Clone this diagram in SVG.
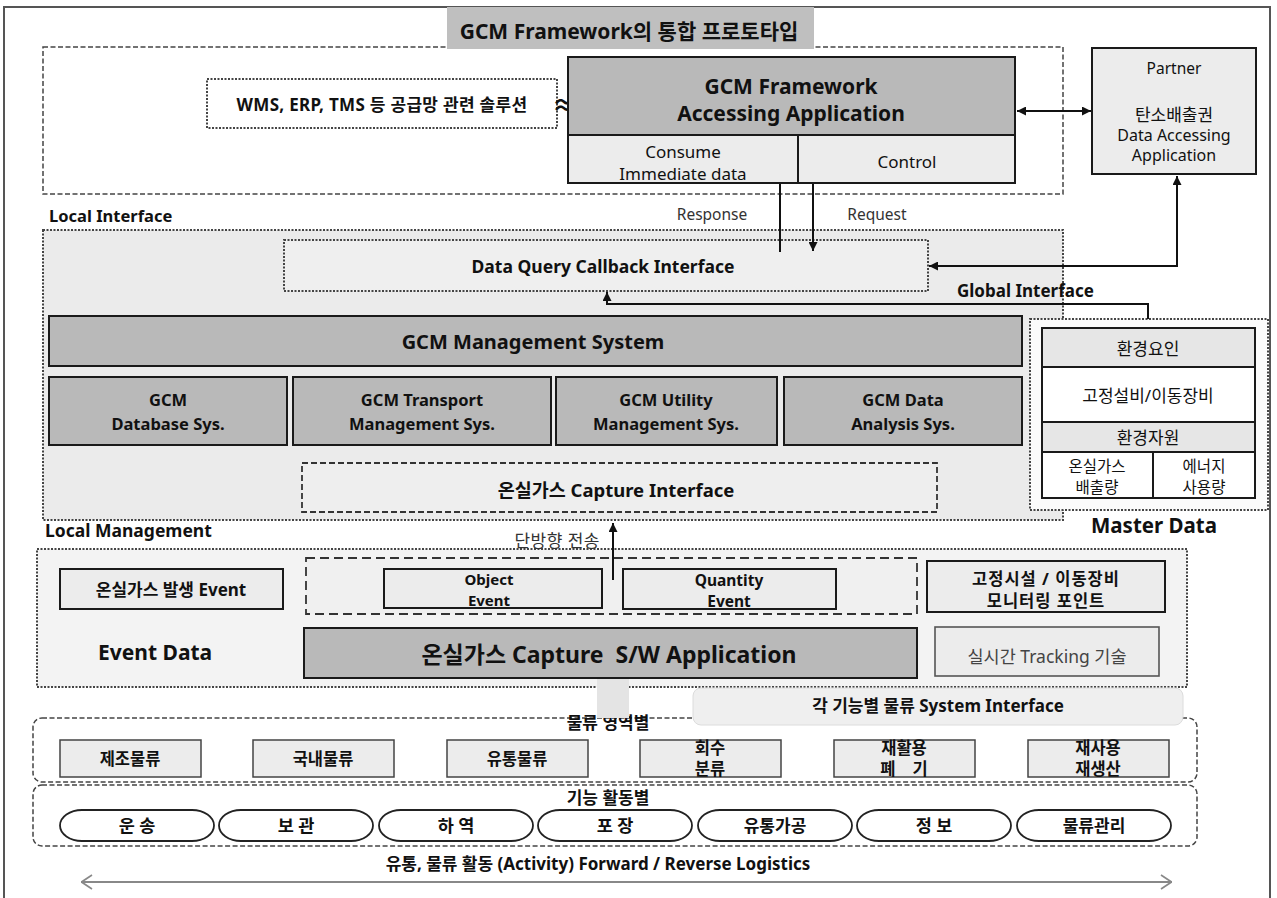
<svg xmlns="http://www.w3.org/2000/svg" width="1277" height="898" viewBox="0 0 1277 898">
  <defs>
    <marker id="arrowHead" viewBox="0 0 10 10" refX="10" refY="5" markerWidth="11" markerHeight="9" markerUnits="userSpaceOnUse" orient="auto-start-reverse">
      <path d="M0,0 L10,5 L0,10 z" fill="#111"/>
    </marker>
    <marker id="openHead" viewBox="0 0 12 16" refX="12" refY="8" markerWidth="12" markerHeight="16" markerUnits="userSpaceOnUse" orient="auto-start-reverse">
      <path d="M1,1 L11.5,8 L1,15" fill="none" stroke="#888" stroke-width="1.6"/>
    </marker>
  </defs>
  <style>
    text { font-family: "Noto Sans", "Noto Sans CJK KR", "Liberation Sans", sans-serif; fill: #111; }
    .b { font-weight: bold; }
    .c { text-anchor: middle; }
    .dark { fill: #b9b9b9; stroke: #1a1a1a; stroke-width: 2; }
    .light { fill: #ececec; stroke: #1a1a1a; stroke-width: 2; }
    .plain { fill: #ffffff; stroke: #1a1a1a; stroke-width: 2; }
    .dotted { stroke: #444; stroke-width: 2; stroke-dasharray: 2 1.5; }
    .dashed { stroke: #444; stroke-width: 1.5; stroke-dasharray: 5 2.5; }
    .conn { fill: none; stroke: #111; stroke-width: 2; }
    .thin { fill: #333; }
  </style>

  <!-- page frame -->
  <rect x="4" y="7" width="1266" height="900" fill="#ffffff" stroke="#555" stroke-width="2"/>

  <!-- application layer -->
  <g id="app-layer">
    <rect x="43" y="47" width="1020" height="147" fill="#ffffff" class="dashed"/>
    <rect x="447" y="7" width="367" height="42" fill="#bfbfbf"/>
    <text x="629" y="39" class="b c" font-size="21">GCM Framework의 통합 프로토타입</text>
  </g>

  <g id="supply-solutions">
    <rect x="207" y="79" width="350" height="49" fill="#ffffff" class="dotted"/>
    <text x="382" y="111" class="b c" font-size="17" letter-spacing="0.3">WMS, ERP, TMS 등 공급망 관련 솔루션</text>
    <text x="564" y="114" class="b c" font-size="24">≈</text>
  </g>

  <g id="framework-app">
    <rect x="568" y="57" width="447" height="78" class="dark"/>
    <rect x="568" y="135" width="230" height="48" class="light"/>
    <rect x="798" y="135" width="217" height="48" class="light"/>
    <text x="791" y="94" class="b c" font-size="21">GCM Framework</text>
    <text x="791" y="121" class="b c" font-size="21">Accessing Application</text>
    <text x="683" y="158" class="c" font-size="17">Consume</text>
    <text x="683" y="180" class="c" font-size="17">Immediate data</text>
    <text x="907" y="168" class="c" font-size="17">Control</text>
  </g>

  <g id="partner">
    <rect x="1092" y="48" width="164" height="126" class="light"/>
    <text x="1174" y="74" class="c" font-size="15.5">Partner</text>
    <text x="1174" y="121" class="c" font-size="17">탄소배출권</text>
    <text x="1174" y="141" class="c" font-size="16">Data Accessing</text>
    <text x="1174" y="161" class="c" font-size="16">Application</text>
  </g>

  <!-- local interface layer -->
  <g id="local-interface">
    <text x="49" y="222" class="b" font-size="16.5">Local Interface</text>
    <rect x="43" y="230" width="1020" height="290" fill="#ebebeb" class="dotted"/>
  </g>

  <g id="data-query">
    <rect x="284" y="240" width="644" height="51" fill="#efefef" class="dotted"/>
    <text x="603" y="273" class="b c" font-size="17.5">Data Query Callback Interface</text>
  </g>

  <g id="management-system">
    <rect x="49" y="316" width="973" height="50" class="dark"/>
    <text x="533" y="349" class="b c" font-size="20">GCM Management System</text>
  </g>

  <g id="database-sys">
    <rect x="49" y="377" width="238" height="68" class="dark"/>
    <text x="168" y="406" class="b c" font-size="16.5">GCM</text>
    <text x="168" y="430" class="b c" font-size="16.5">Database Sys.</text>
  </g>
  <g id="transport-sys">
    <rect x="293" y="377" width="258" height="68" class="dark"/>
    <text x="422" y="406" class="b c" font-size="16.5">GCM Transport</text>
    <text x="422" y="430" class="b c" font-size="16.5">Management Sys.</text>
  </g>
  <g id="utility-sys">
    <rect x="556" y="377" width="221" height="68" class="dark"/>
    <text x="666" y="406" class="b c" font-size="16.5">GCM Utility</text>
    <text x="666" y="430" class="b c" font-size="16.5">Management Sys.</text>
  </g>
  <g id="analysis-sys">
    <rect x="784" y="377" width="238" height="68" class="dark"/>
    <text x="903" y="406" class="b c" font-size="16.5">GCM Data</text>
    <text x="903" y="430" class="b c" font-size="16.5">Analysis Sys.</text>
  </g>

  <g id="capture-interface">
    <rect x="302" y="463" width="635" height="49" fill="#eeeeee" stroke="#333" stroke-width="1.8" stroke-dasharray="6 3"/>
    <text x="616" y="497" class="b c" font-size="18.5">온실가스 Capture Interface</text>
  </g>

  <g id="master-data">
    <rect x="1030" y="319" width="238" height="191" fill="#fbfbfb" class="dotted"/>
    <rect x="1042" y="328" width="213" height="39" fill="#e6e6e6" stroke="#1a1a1a" stroke-width="2"/>
    <rect x="1042" y="367" width="213" height="55" class="plain"/>
    <rect x="1042" y="422" width="213" height="30" fill="#e6e6e6" stroke="#1a1a1a" stroke-width="2"/>
    <rect x="1042" y="452" width="111" height="46" class="plain"/>
    <rect x="1153" y="452" width="102" height="46" class="plain"/>
    <text x="1148" y="355" class="c" font-size="17">환경요인</text>
    <text x="1148" y="402" class="c" font-size="17">고정설비/이동장비</text>
    <text x="1148" y="444" class="c" font-size="17">환경자원</text>
    <text x="1097" y="472" class="c" font-size="15.5">온실가스</text>
    <text x="1097" y="493" class="c" font-size="15.5">배출량</text>
    <text x="1204" y="472" class="c" font-size="15.5">에너지</text>
    <text x="1204" y="493" class="c" font-size="15.5">사용량</text>
    <text x="1154" y="533" class="b c" font-size="20.5">Master Data</text>
  </g>

  <g id="global-interface-label">
    <text x="957" y="297" class="b" font-size="17">Global Interface</text>
  </g>

  <!-- local management layer -->
  <g id="local-management">
    <text x="45" y="537" class="b" font-size="17.5">Local Management</text>
    <rect x="37" y="549" width="1150" height="138" fill="#f3f3f3" class="dotted"/>
    <text x="98" y="660" class="b" font-size="21">Event Data</text>
  </g>

  <g id="ghg-event">
    <rect x="60" y="569" width="223" height="40" class="light" stroke-width="1.8"/>
    <text x="171" y="596" class="b c" font-size="17">온실가스 발생 Event</text>
  </g>

  <g id="event-group">
    <rect x="306" y="558" width="611" height="56" fill="#f0f0f0" stroke="#333" stroke-width="1.8" stroke-dasharray="9 5"/>
  </g>
  <g id="object-event">
    <rect x="384" y="569" width="218" height="39" class="light" stroke-width="1.8"/>
    <text x="489" y="585" class="b c" font-size="15">Object</text>
    <text x="489" y="606" class="b c" font-size="15">Event</text>
  </g>
  <g id="quantity-event">
    <rect x="623" y="569" width="213" height="40" class="light" stroke-width="1.8"/>
    <text x="729" y="586" class="b c" font-size="15.5">Quantity</text>
    <text x="729" y="607" class="b c" font-size="15.5">Event</text>
  </g>

  <g id="monitoring-point">
    <rect x="927" y="561" width="238" height="51" class="light"/>
    <text x="1046" y="585" class="b c" font-size="16.5" letter-spacing="1">고정시설 / 이동장비</text>
    <text x="1046" y="607" class="b c" font-size="16.5" letter-spacing="1">모니터링 포인트</text>
  </g>

  <g id="capture-app">
    <rect x="304" y="628" width="613" height="50" class="dark"/>
    <text x="609" y="663" class="b c" font-size="23" xml:space="preserve">온실가스 Capture  S/W Application</text>
  </g>

  <g id="tracking">
    <rect x="935" y="627" width="224" height="49" fill="#ececec" stroke="#555" stroke-width="1.6"/>
    <text x="1047" y="663" class="c" font-size="17.5" style="fill:#444">실시간 Tracking 기술</text>
  </g>

  <!-- logistics layers -->
  <g id="logistics-domain">
    <rect x="33" y="718" width="1164" height="64" rx="9" fill="#ffffff" class="dashed"/>
    <text x="608" y="729" class="b c" font-size="17">물류 영역별</text>
  </g>
  <g id="logistics-function">
    <rect x="33" y="785" width="1164" height="61" rx="9" fill="#ffffff" class="dashed"/>
    <text x="608" y="804" class="b c" font-size="17">기능 활동별</text>
  </g>

  <g id="gateway-column">
    <rect x="597" y="679" width="32" height="39" fill="#e4e4e4"/>
  </g>

  <g id="system-interface">
    <rect x="693" y="688" width="490" height="37" rx="8" fill="#efefef" stroke="#dcdcdc" stroke-width="1"/>
    <text x="938" y="712" class="b c" font-size="17">각 기능별 물류 System Interface</text>
  </g>

  <g id="domain-boxes" stroke="#444" stroke-width="1.5">
    <g id="manufacturing">
      <rect x="60" y="740" width="141" height="37" fill="#ececec"/>
      <text x="130" y="765" class="b c" font-size="16.5" stroke="none">제조물류</text>
    </g>
    <g id="domestic">
      <rect x="253" y="740" width="141" height="37" fill="#ececec"/>
      <text x="323" y="765" class="b c" font-size="16.5" stroke="none">국내물류</text>
    </g>
    <g id="distribution">
      <rect x="447" y="740" width="141" height="37" fill="#ececec"/>
      <text x="517" y="765" class="b c" font-size="16.5" stroke="none">유통물류</text>
    </g>
    <g id="recovery">
      <rect x="640" y="740" width="141" height="37" fill="#ececec"/>
      <text x="710" y="754" class="b c" font-size="16.5" stroke="none">회수</text>
      <text x="710" y="775" class="b c" font-size="16.5" stroke="none">분류</text>
    </g>
    <g id="recycling">
      <rect x="834" y="740" width="141" height="37" fill="#ececec"/>
      <text x="904" y="754" class="b c" font-size="16.5" stroke="none">재활용</text>
      <text x="904" y="775" class="b c" font-size="16.5" stroke="none" xml:space="preserve">폐    기</text>
    </g>
    <g id="reuse">
      <rect x="1028" y="740" width="141" height="37" fill="#ececec"/>
      <text x="1098" y="754" class="b c" font-size="16.5" stroke="none">재사용</text>
      <text x="1098" y="775" class="b c" font-size="16.5" stroke="none">재생산</text>
    </g>
  </g>

  <g id="function-capsules" stroke="#222" stroke-width="1.8" fill="#ffffff">
    <g id="transport"><rect x="60" y="810" width="154" height="31" rx="22" ry="15.5"/><text x="137" y="832" class="b c" font-size="17.5" stroke="none">운 송</text></g>
    <g id="storage"><rect x="219" y="810" width="154" height="31" rx="22" ry="15.5"/><text x="296" y="832" class="b c" font-size="17.5" stroke="none">보 관</text></g>
    <g id="handling"><rect x="379" y="810" width="154" height="31" rx="22" ry="15.5"/><text x="456" y="832" class="b c" font-size="17.5" stroke="none">하 역</text></g>
    <g id="packaging"><rect x="538" y="810" width="154" height="31" rx="22" ry="15.5"/><text x="615" y="832" class="b c" font-size="17.5" stroke="none">포 장</text></g>
    <g id="processing"><rect x="698" y="810" width="154" height="31" rx="22" ry="15.5"/><text x="775" y="832" class="b c" font-size="17" stroke="none">유통가공</text></g>
    <g id="information"><rect x="857" y="810" width="154" height="31" rx="22" ry="15.5"/><text x="934" y="832" class="b c" font-size="17.5" stroke="none">정 보</text></g>
    <g id="management"><rect x="1017" y="810" width="154" height="31" rx="22" ry="15.5"/><text x="1094" y="832" class="b c" font-size="17" stroke="none">물류관리</text></g>
  </g>

  <g id="activity-axis">
    <text x="598" y="870" class="b c" font-size="17">유통, 물류 활동 (Activity) Forward / Reverse Logistics</text>
  </g>

  <!-- connectors -->
  <g id="connectors">
    <path class="conn" d="M1017,111 H1091" marker-start="url(#arrowHead)" marker-end="url(#arrowHead)"/>
    <path class="conn" d="M1177,176 V266 H929" marker-start="url(#arrowHead)" marker-end="url(#arrowHead)"/>
    <path class="conn" d="M780,184 V252"/>
    <path class="conn" d="M813,184 V251" marker-end="url(#arrowHead)"/>
    <path class="conn" d="M1148,319 V304 H607 V292" marker-end="url(#arrowHead)"/>
    <path class="conn" d="M613,580 V523" marker-end="url(#arrowHead)"/>
    <path d="M81,882 H1172" fill="none" stroke="#888" stroke-width="2" marker-start="url(#openHead)" marker-end="url(#openHead)"/>
    <text x="712" y="220" class="c thin" font-size="15.5">Response</text>
    <text x="877" y="220" class="c thin" font-size="15.5">Request</text>
    <text x="600" y="547" class="thin" font-size="17" letter-spacing="0.5" style="text-anchor:end">단방향 전송</text>
  </g>
</svg>
